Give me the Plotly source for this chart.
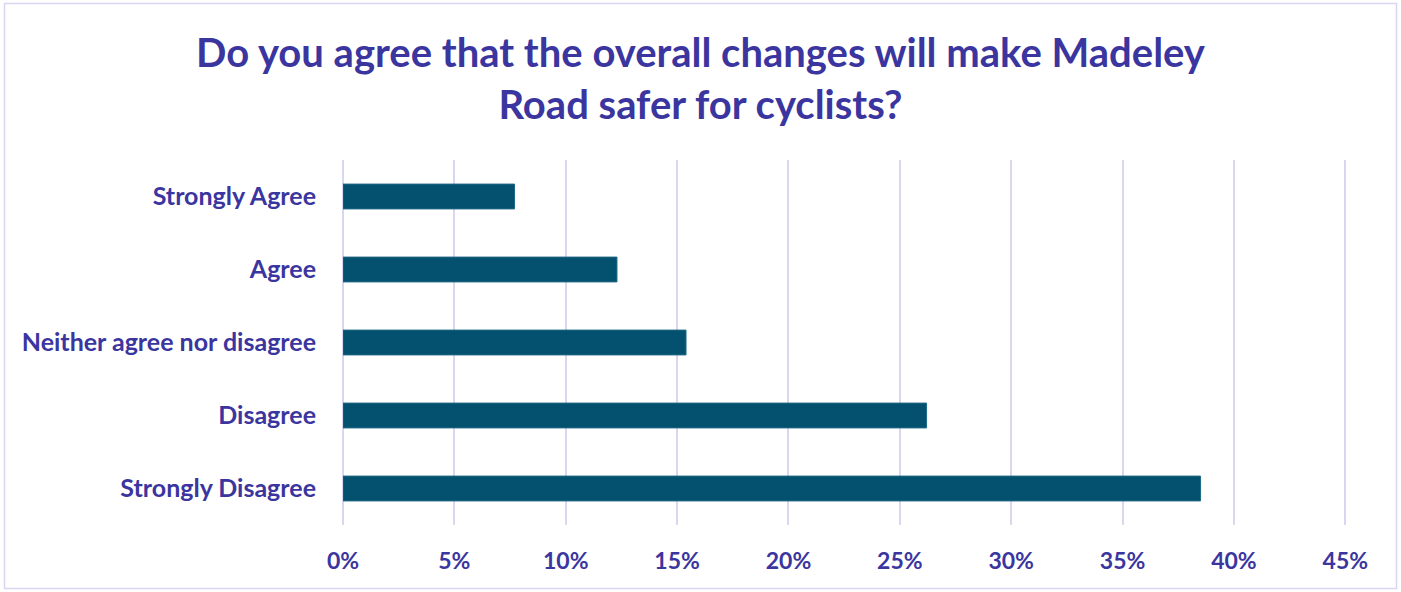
import plotly.graph_objects as go

categories = ["Strongly Agree", "Agree", "Neither agree nor disagree", "Disagree", "Strongly Disagree"]
values = [7.7, 12.3, 15.4, 26.2, 38.5]
tick_vals = [0, 5, 10, 15, 20, 25, 30, 35, 40, 45]
tick_text = [f"{v}%" for v in tick_vals]

W, H = 1401, 592
X_MAX = 45.3
L, R, T, B = 343, 49, 160, 67
pw, ph = W - L - R, H - T - B

TXT = "#3B35A0"
FONT = "Lato, 'Open Sans', sans-serif"

fig = go.Figure(go.Bar(
    x=values, y=categories, orientation="h",
    marker=dict(color="#03506F", line=dict(color="#1F6A86", width=1)),
    width=0.34, hoverinfo="x+y",
))

fig.update_layout(
    width=W, height=H,
    margin=dict(l=L, r=R, t=T, b=B),
    paper_bgcolor="white", plot_bgcolor="white",
    showlegend=False,
    title=dict(
        text="Do you agree that the overall changes will make Madeley<br>Road safer for cyclists?",
        x=0.5, xref="container", xanchor="center",
        y=1 - 67 / H, yanchor="middle",
        font=dict(family=FONT, size=40, color=TXT, weight="bold"),
    ),
    font=dict(family=FONT, color=TXT),
    xaxis=dict(
        range=[0, X_MAX], tickvals=tick_vals, ticktext=tick_text,
        showgrid=True, gridcolor="#D9D6F2", gridwidth=1.5,
        zeroline=True, zerolinecolor="#D9D6F2", zerolinewidth=1.5,
        showline=False, ticks="", ticklabelstandoff=20,
        tickfont=dict(family=FONT, size=23, color=TXT, weight="bold"),
        fixedrange=True,
    ),
    yaxis=dict(
        categoryorder="array", categoryarray=categories[::-1],
        showgrid=False, zeroline=False, showline=False, ticks="",
        ticklabelstandoff=26,
        tickfont=dict(family=FONT, size=25, color=TXT, weight="bold"),
        fixedrange=True,
    ),
    shapes=[dict(
        type="rect", xref="paper", yref="paper",
        x0=(4.5 - L) / pw, x1=(1396.5 - L) / pw,
        y0=(H - B - 588.5) / ph, y1=(H - B - 3.5) / ph,
        line=dict(color="#D9D6F2", width=1.5), fillcolor="rgba(0,0,0,0)",
        layer="below",
    )],
)

fig.write_html("out.html", config={"displayModeBar": False},
               post_script="document.body.style.margin='0';document.body.style.overflow='hidden';")
